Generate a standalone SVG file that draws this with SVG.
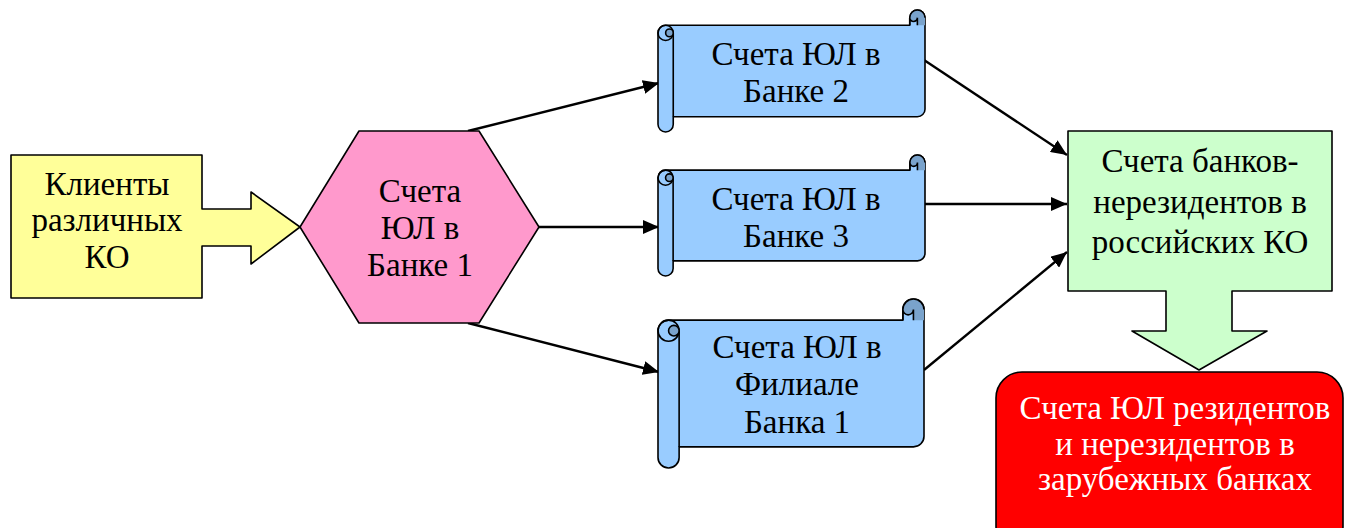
<svg xmlns="http://www.w3.org/2000/svg" width="1346" height="528" viewBox="0 0 1346 528">
<defs>
<marker id="ah" markerUnits="userSpaceOnUse" markerWidth="18" markerHeight="14" refX="16" refY="7" orient="auto">
<path d="M0,0 L16,7 L0,14 Z" fill="#000"/>
</marker>
<style>
.o{stroke:#000;stroke-width:1.6;stroke-linejoin:round}
.sc{fill:#99CCFF}
.dk{fill:#7AA3CC}
.ln{fill:none;stroke:#000;stroke-width:1.6}
.c{fill:none;stroke:#000;stroke-width:2.4;marker-end:url(#ah)}
</style>
</defs>
<rect width="1346" height="528" fill="#fff"/>

<g id="connectors">
<path class="c" d="M468,131 L659,83"/>
<path class="c" d="M539,227 L659,227"/>
<path class="c" d="M468,323 L659,372"/>
<path class="c" d="M924,60 L1067,155"/>
<path class="c" d="M925,204 L1067,204"/>
<path class="c" d="M924,370 L1067,252"/>
</g>

<g id="clients">
<path class="o" fill="#FFFF99" d="M11,155 L202,155 L202,209 L251,209 L251,192 L300,227 L251,264 L251,246 L202,246 L202,298 L11,298 Z"/>
<text x="107" y="195" font-family="Times New Roman, Liberation Serif, serif" font-size="33" text-anchor="middle">Клиенты</text>
<text x="107" y="231" font-family="Times New Roman, Liberation Serif, serif" font-size="33" text-anchor="middle">различных</text>
<text x="107" y="268" font-family="Times New Roman, Liberation Serif, serif" font-size="33" text-anchor="middle">КО</text>
</g>

<g id="bank1">
<path class="o" fill="#FF99CC" d="M300,227 L359,131 L479,131 L539,227 L479,323 L359,323 Z"/>
<text x="420" y="202" font-family="Times New Roman, Liberation Serif, serif" font-size="33" text-anchor="middle">Счета</text>
<text x="420" y="239" font-family="Times New Roman, Liberation Serif, serif" font-size="33" text-anchor="middle">ЮЛ в</text>
<text x="420" y="276" font-family="Times New Roman, Liberation Serif, serif" font-size="33" text-anchor="middle">Банке 1</text>
</g>

<g id="bank2">
<path class="o sc" d="M658,32.875 A7.625,7.625 0 0 1 665.625,25.25 L909.75,25.25 L909.75,17.625 A7.625,7.625 0 0 1 925,17.625 L925,109.125 A7.625,7.625 0 0 1 917.375,116.75 L673.25,116.75 L673.25,124.375 A7.625,7.625 0 0 1 658,124.375 Z"/>
<path class="dk" d="M909.75,17.625 A7.625,7.625 0 0 1 925,17.625 L925,25.25 L917.375,25.25 L917.375,17.625 A3.8125,3.8125 0 0 1 909.75,17.625 Z"/>
<path class="ln" d="M909.75,25.25 L909.75,17.625 A7.625,7.625 0 0 1 925,17.625 M917.375,25.25 L917.375,17.625 A3.8125,3.8125 0 0 1 909.75,17.625 M673.25,32.875 L673.25,116.75"/>
<circle class="ln" cx="665.625" cy="32.875" r="7.625"/>
<circle class="o dk" cx="669.44" cy="32.875" r="3.81"/>
<text x="796" y="65" font-family="Times New Roman, Liberation Serif, serif" font-size="33" text-anchor="middle">Счета ЮЛ в</text>
<text x="796" y="102" font-family="Times New Roman, Liberation Serif, serif" font-size="33" text-anchor="middle">Банке 2</text>
</g>

<g id="bank3">
<path class="o sc" d="M658,177.69 A7.5625,7.5625 0 0 1 665.5625,170.125 L909.875,170.125 L909.875,162.5625 A7.5625,7.5625 0 0 1 925,162.5625 L925,253.3125 A7.5625,7.5625 0 0 1 917.4375,260.875 L673.125,260.875 L673.125,268.4375 A7.5625,7.5625 0 0 1 658,268.4375 Z"/>
<path class="dk" d="M909.875,162.5625 A7.5625,7.5625 0 0 1 925,162.5625 L925,170.125 L917.4375,170.125 L917.4375,162.5625 A3.78125,3.78125 0 0 1 909.875,162.5625 Z"/>
<path class="ln" d="M909.875,170.125 L909.875,162.5625 A7.5625,7.5625 0 0 1 925,162.5625 M917.4375,170.125 L917.4375,162.5625 A3.78125,3.78125 0 0 1 909.875,162.5625 M673.125,177.69 L673.125,260.875"/>
<circle class="ln" cx="665.5625" cy="177.69" r="7.5625"/>
<circle class="o dk" cx="669.34" cy="177.69" r="3.78"/>
<text x="796" y="210" font-family="Times New Roman, Liberation Serif, serif" font-size="33" text-anchor="middle">Счета ЮЛ в</text>
<text x="796" y="247" font-family="Times New Roman, Liberation Serif, serif" font-size="33" text-anchor="middle">Банке 3</text>
</g>

<g id="branch1">
<path class="o sc" d="M658,330.69 A10.5625,10.5625 0 0 1 668.5625,320.125 L902.875,320.125 L902.875,309.5625 A10.5625,10.5625 0 0 1 924,309.5625 L924,436.3125 A10.5625,10.5625 0 0 1 913.4375,446.875 L679.125,446.875 L679.125,457.4375 A10.5625,10.5625 0 0 1 658,457.4375 Z"/>
<path class="dk" d="M902.875,309.5625 A10.5625,10.5625 0 0 1 924,309.5625 L924,320.125 L913.4375,320.125 L913.4375,309.5625 A5.28125,5.28125 0 0 1 902.875,309.5625 Z"/>
<path class="ln" d="M902.875,320.125 L902.875,309.5625 A10.5625,10.5625 0 0 1 924,309.5625 M913.4375,320.125 L913.4375,309.5625 A5.28125,5.28125 0 0 1 902.875,309.5625 M679.125,330.69 L679.125,446.875"/>
<circle class="ln" cx="668.5625" cy="330.69" r="10.5625"/>
<circle class="o dk" cx="673.84" cy="330.69" r="5.28"/>
<text x="797" y="358" font-family="Times New Roman, Liberation Serif, serif" font-size="33" text-anchor="middle">Счета ЮЛ в</text>
<text x="797" y="395" font-family="Times New Roman, Liberation Serif, serif" font-size="33" text-anchor="middle">Филиале</text>
<text x="797" y="433" font-family="Times New Roman, Liberation Serif, serif" font-size="33" text-anchor="middle">Банка 1</text>
</g>

<g id="nonresident">
<path class="o" fill="#CCFFCC" d="M1068,131 L1332,131 L1332,291 L1232,291 L1232,331 L1267,331 L1199,370 L1132,331 L1166,331 L1166,291 L1068,291 Z"/>
<text x="1200" y="172" font-family="Times New Roman, Liberation Serif, serif" font-size="33" text-anchor="middle">Счета банков-</text>
<text x="1200" y="213" font-family="Times New Roman, Liberation Serif, serif" font-size="33" text-anchor="middle">нерезидентов в</text>
<text x="1200" y="253" font-family="Times New Roman, Liberation Serif, serif" font-size="33" text-anchor="middle">российских КО</text>
</g>

<g id="foreign">
<rect class="o" fill="#FF0000" x="996" y="372" width="347" height="180" rx="26"/>
<text x="1175" y="419" fill="#FFFFFF" font-family="Times New Roman, Liberation Serif, serif" font-size="33" text-anchor="middle">Счета ЮЛ резидентов</text>
<text x="1175" y="455" fill="#FFFFFF" font-family="Times New Roman, Liberation Serif, serif" font-size="33" text-anchor="middle">и нерезидентов в</text>
<text x="1175" y="490" fill="#FFFFFF" font-family="Times New Roman, Liberation Serif, serif" font-size="33" text-anchor="middle">зарубежных банках</text>
</g>
</svg>
